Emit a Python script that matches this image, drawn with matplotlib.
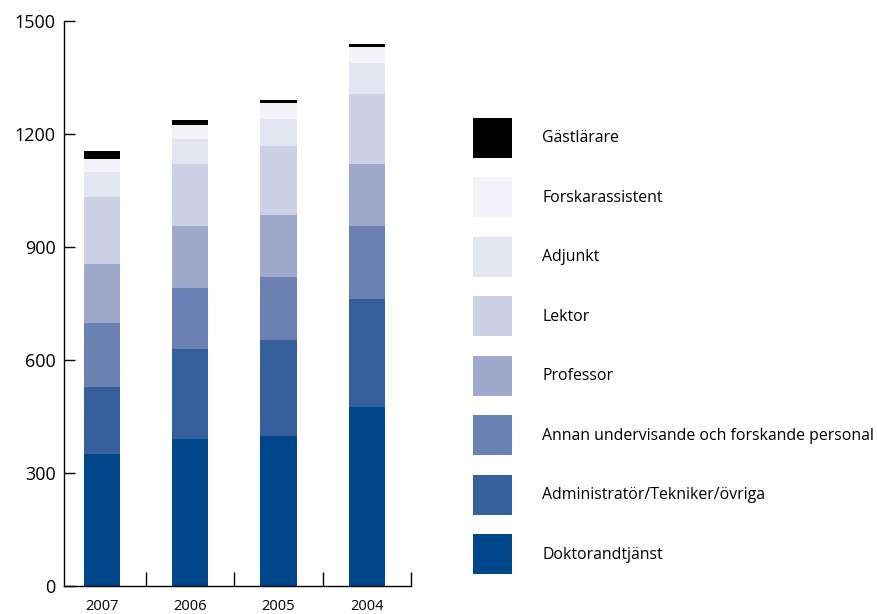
import matplotlib
matplotlib.use("Agg")
import matplotlib.pyplot as plt
from matplotlib.patches import Patch
from matplotlib.ticker import FixedLocator, NullFormatter
import numpy as np

plt.rcParams['font.family'] = ['Open Sans', 'DejaVu Sans']

years = ["2007", "2006", "2005", "2004"]

# Staff categories, stacked from the bottom up
categories = [
    "Doktorandtjänst",
    "Administratör/Tekniker/övriga",
    "Annan undervisande och forskande personal",
    "Professor",
    "Lektor",
    "Adjunkt",
    "Forskarassistent",
    "Gästlärare",
]

doktorandtjanst = [350, 390, 398, 475]
administrator = [178, 239, 255, 287]
annan_personal = [170, 162, 167, 194]
professor = [157, 165, 165, 165]
lektor = [178, 165, 183, 186]
adjunkt = [66, 66, 72, 82]
forskarassistent = [35, 37, 42, 43]
gastlarare = [21, 13, 8, 8]

series = [doktorandtjanst, administrator, annan_personal, professor,
          lektor, adjunkt, forskarassistent, gastlarare]

colors = ["#00468b", "#36609c", "#6b80b3", "#9ea8cb",
          "#cdd1e5", "#e3e6f0", "#f2f2f8", "#000000"]

fig = plt.figure(figsize=(8.77, 6.14), dpi=100)
W, H = 877, 614
ax = fig.add_axes([64 / W, 28 / H, (411 - 64) / W, (586 - 21) / H])

x = np.arange(len(years))
bottom = np.zeros(len(years))
for vals, col, name in zip(series, colors, categories):
    ax.bar(x, vals, width=0.41, bottom=bottom, color=col, label=name,
           linewidth=0)
    bottom += np.array(vals)

ax.set_xlim(-0.43, 3.5)
ax.set_ylim(0, 1500)

for s in ("top", "right"):
    ax.spines[s].set_visible(False)
ax.spines["left"].set_linewidth(1.0)
ax.spines["bottom"].set_linewidth(1.0)

ax.set_yticks([0, 300, 600, 900, 1200, 1500])
ax.tick_params(axis="y", direction="in", length=8, width=1.0, pad=6,
               labelsize=13)

ax.set_xticks(x)
ax.set_xticklabels(years)
ax.tick_params(axis="x", which="major", length=0, pad=9, labelsize=10.5)
ax.xaxis.set_minor_locator(FixedLocator([0.5, 1.5, 2.5, 3.5]))
ax.xaxis.set_minor_formatter(NullFormatter())
ax.tick_params(axis="x", which="minor", direction="in", length=10, width=1.0)

# Legend: 28 pt square swatches, one entry every ~43 pt
fs = 11.4
swatch_w, swatch_h, gap = 28.1, 28.8, 14.0
hh = (swatch_h / fs - 0.245) / 0.65
handles = [Patch(facecolor=c, edgecolor="none") for c in colors[::-1]]
fig.legend(handles, categories[::-1], loc="upper left",
           bbox_to_anchor=(473 / W, 1 - 118 / H),
           bbox_transform=fig.transFigure, frameon=False, fontsize=fs,
           borderpad=0, borderaxespad=0,
           handlelength=swatch_w / fs, handleheight=hh,
           labelspacing=gap / fs, handletextpad=21.6 / fs)

fig.savefig("out.png", dpi=100)
